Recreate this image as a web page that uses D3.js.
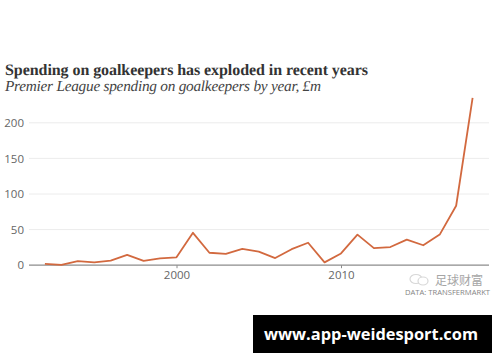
<!DOCTYPE html>
<html>
<head>
<meta charset="utf-8">
<script src="https://cdn.jsdelivr.net/npm/d3@7"></script>
<style>
	html, body { margin: 0; padding: 0; background: #fff; }
	svg { display: block; }
	.title { font: bold 16px "Liberation Serif", serif; fill: #333; text-rendering: geometricPrecision; }
	.subtitle { font: italic 15.3px "Liberation Serif", serif; fill: #444; text-rendering: geometricPrecision; }
	.axis text { font: 11.5px "Open Sans", sans-serif; fill: #666; }
	.source { font: 8px "Open Sans", sans-serif; fill: #858585; }
	.mark { font: 12px "Noto Sans CJK SC", sans-serif; fill: #a5a5a5; }
	.site { font: bold 16.4px "Open Sans", sans-serif; fill: #fff; }
</style>
</head>
<body>
<div id="chart"></div>
<script>
const years = [1992, 1993, 1994, 1995, 1996, 1997, 1998, 1999, 2000, 2001, 2002, 2003, 2004, 2005,
	2006, 2007, 2008, 2009, 2010, 2011, 2012, 2013, 2014, 2015, 2016, 2017, 2018];
const spending = [2, 0.5, 5.6, 4, 6.5, 14.5, 6, 9.5, 11, 45.5, 17.5, 16, 23, 19,
	10, 22.5, 31.5, 4, 16.5, 43, 24, 25.5, 36, 28, 43, 83.5, 235];
const yTicks = [0, 50, 100, 150, 200];
const xTicks = [2000, 2010];

const width = 500,
	height = 362,
	plotLeft = 29,
	plotRight = 489;

const svg = d3.select('#chart').append('svg')
	.attr('width', width)
	.attr('height', height);

// scales are pinned to where 2000/2010 and 0/200 sit in the picture
const xScale = d3.scaleLinear()
	.domain([2000, 2010])
	.range([176.5, 341]);

const yScale = d3.scaleLinear()
	.domain([0, 200])
	.range([265.2, 122.8]);

svg.append('text').attr('class', 'title').attr('x', 5).attr('y', 74.5)
	.attr('textLength', 363)
	.text('Spending on goalkeepers has exploded in recent years');
svg.append('text').attr('class', 'subtitle').attr('x', 5).attr('y', 91)
	.attr('textLength', 316)
	.text('Premier League spending on goalkeepers by year, £m');

const yAxis = d3.axisLeft(yScale)
	.tickValues(yTicks)
	.tickSize(0)
	.tickPadding(5);

const yG = svg.append('g')
	.attr('class', 'y axis')
	.attr('transform', `translate(${plotLeft}, 0)`)
	.call(yAxis);
yG.select('.domain').remove();

// gridlines, zero line is heavier
svg.append('g').selectAll('line')
	.data(yTicks)
	.join('line')
	.attr('x1', plotLeft)
	.attr('x2', plotRight)
	.attr('y1', d => yScale(d))
	.attr('y2', d => yScale(d))
	.style('stroke', d => d === 0 ? '#8c8c8c' : '#ececec')
	.style('stroke-width', d => d === 0 ? 1.2 : 1);

const xAxis = d3.axisBottom(xScale)
	.tickValues(xTicks)
	.tickFormat(d3.format('d'))
	.tickSize(3)
	.tickPadding(3);

const xG = svg.append('g')
	.attr('class', 'x axis')
	.attr('transform', `translate(0, ${yScale(0)})`)
	.call(xAxis);
xG.select('.domain').remove();
xG.selectAll('.tick line').style('stroke', '#8c8c8c');

const line = d3.line()
	.x((d, i) => xScale(years[i]))
	.y(d => yScale(d));

svg.append('path')
	.datum(spending)
	.attr('fill', 'none')
	.attr('stroke', '#d2693f')
	.attr('stroke-width', 1.8)
	.attr('stroke-linejoin', 'round')
	.attr('d', line);

// watermark icon, two faint speech bubbles
svg.append('ellipse').attr('cx', 416).attr('cy', 279).attr('rx', 6).attr('ry', 4.5)
	.style('fill', 'none').style('stroke', '#d8d8d8').style('stroke-width', 1.2);
svg.append('ellipse').attr('cx', 423).attr('cy', 281).attr('rx', 5).attr('ry', 4)
	.style('fill', '#fff').style('stroke', '#d8d8d8').style('stroke-width', 1.2);

svg.append('text').attr('class', 'mark').attr('x', 483).attr('y', 284.5)
	.attr('text-anchor', 'end')
	.text('足球财富');
svg.append('text').attr('class', 'source').attr('x', 405).attr('y', 295)
	.attr('textLength', 85)
	.attr('lengthAdjust', 'spacingAndGlyphs')
	.text('DATA: TRANSFERMARKT');

svg.append('rect')
	.attr('x', 253)
	.attr('y', 315)
	.attr('width', 239)
	.attr('height', 38)
	.style('fill', '#000');
svg.append('text').attr('class', 'site').attr('x', 371).attr('y', 340)
	.attr('text-anchor', 'middle')
	.text('www.app-weidesport.com');
</script>
</body>
</html>
